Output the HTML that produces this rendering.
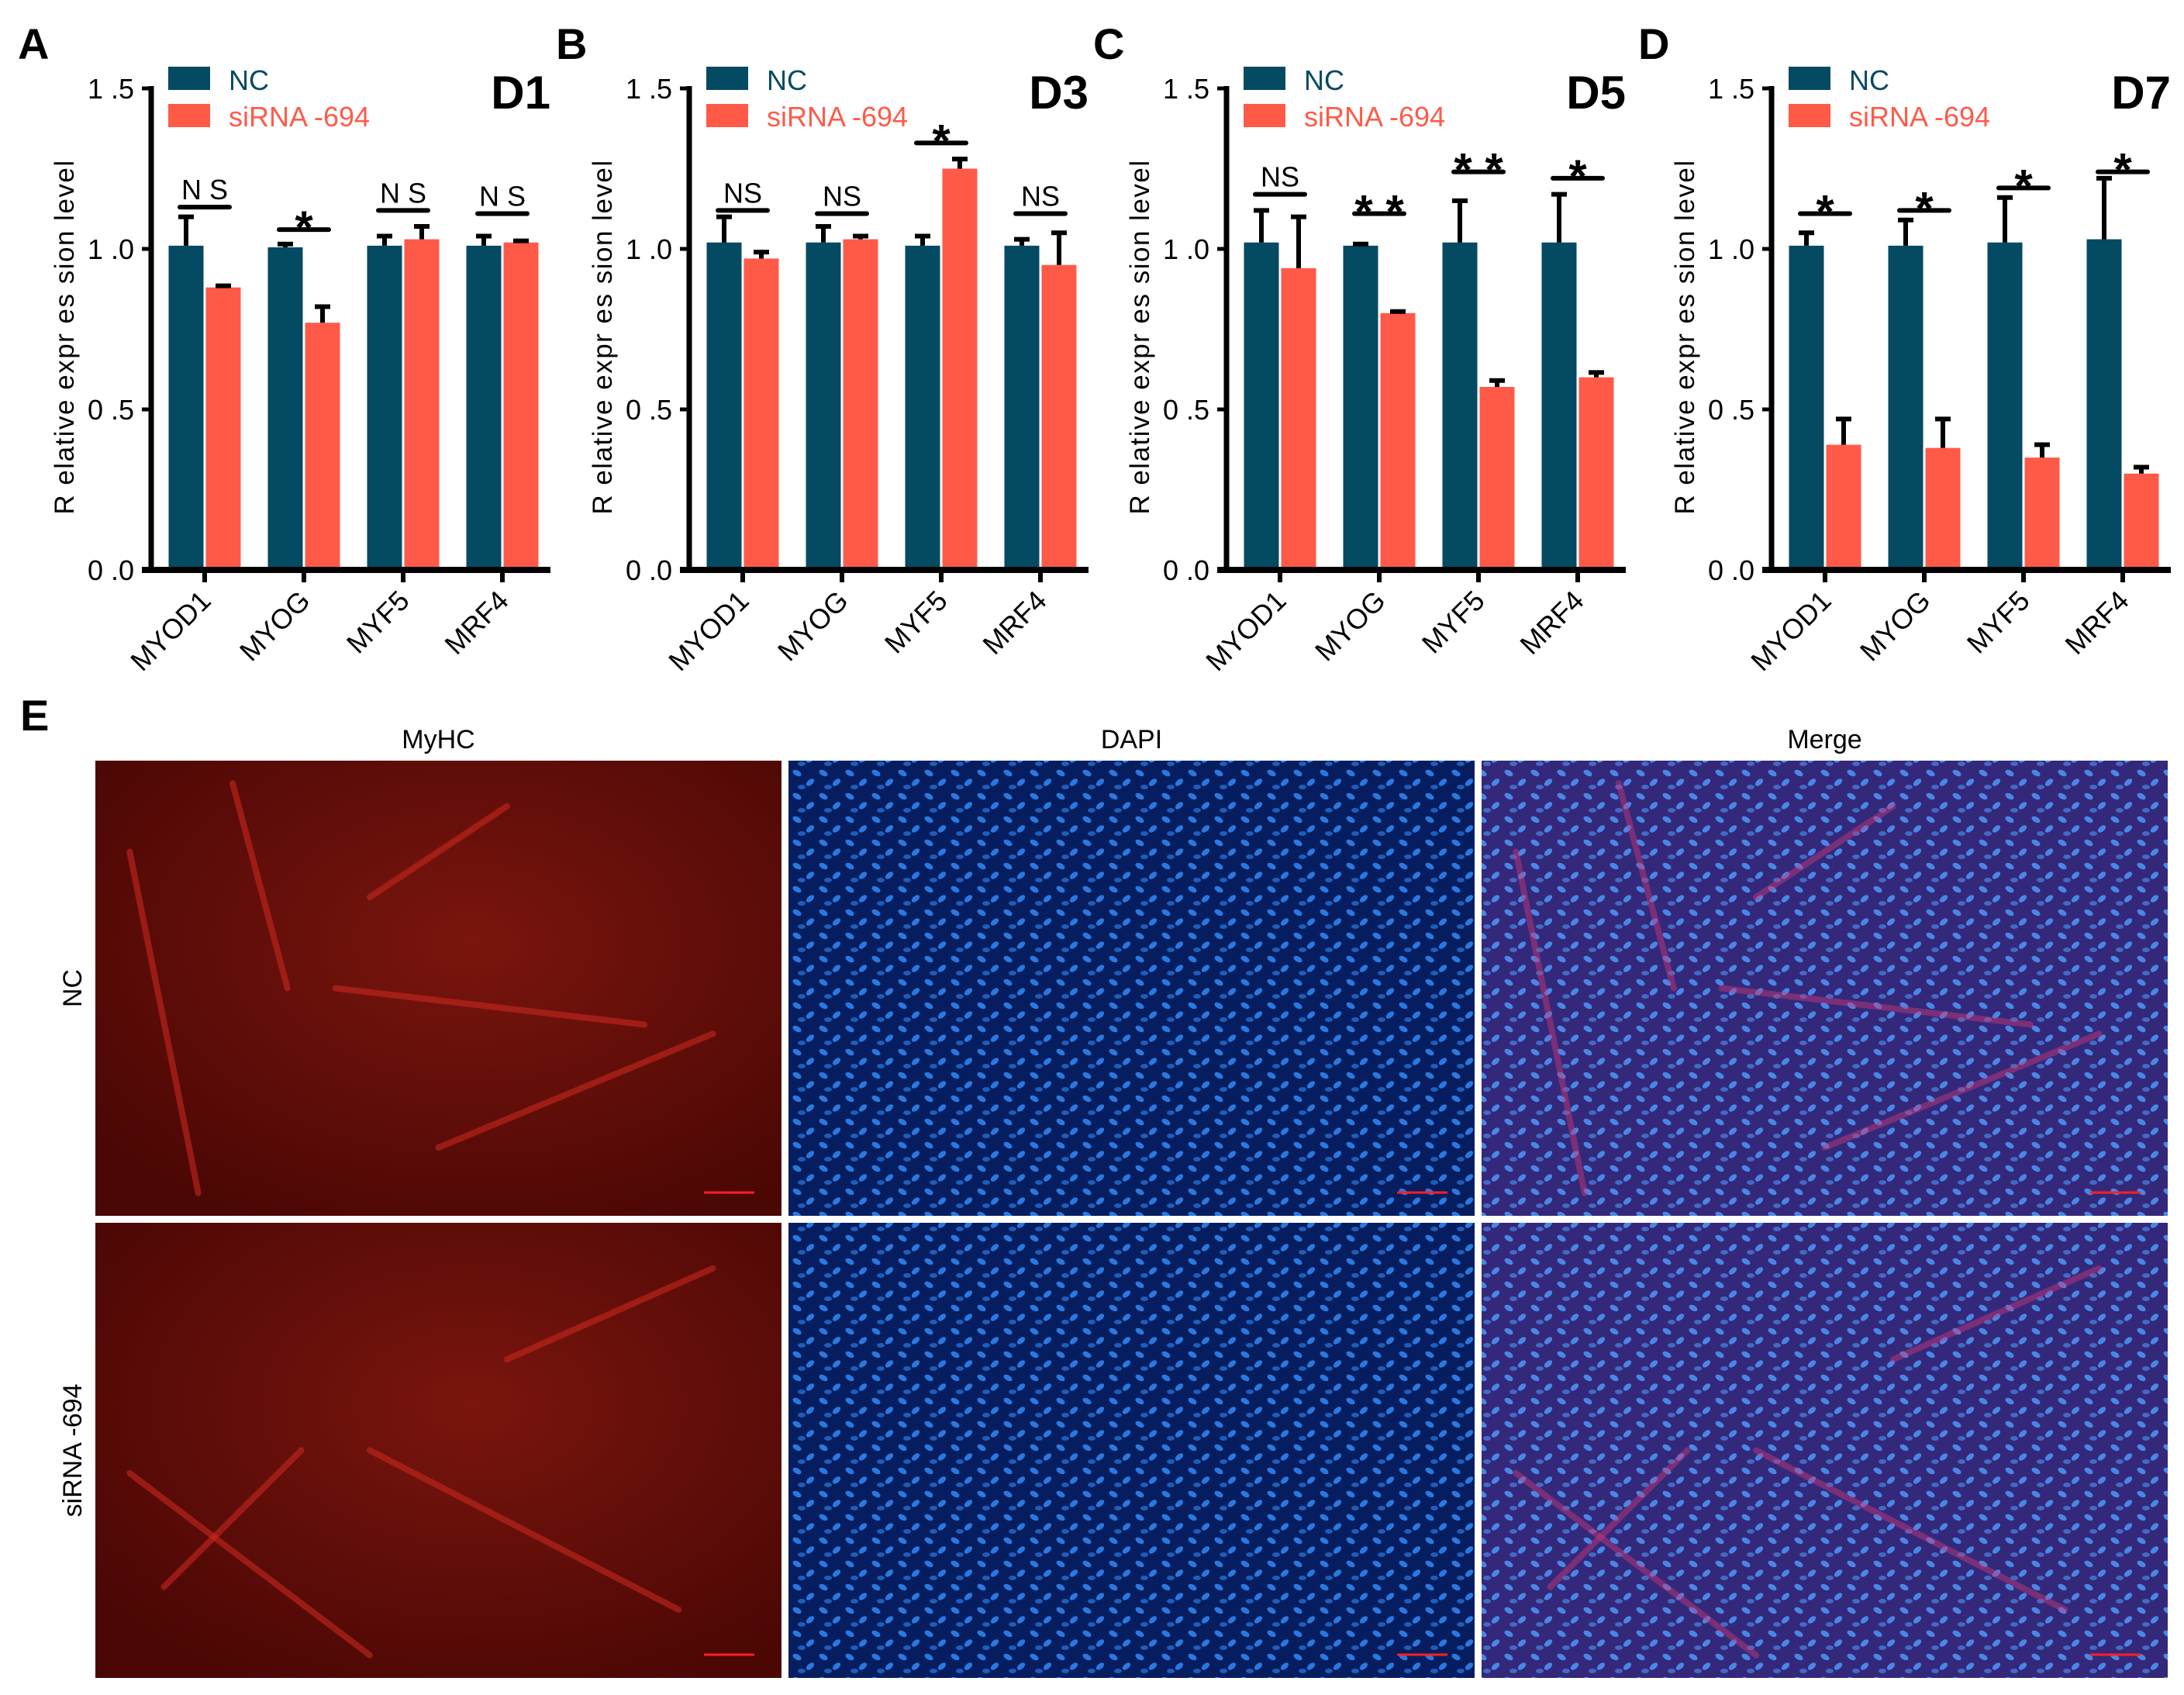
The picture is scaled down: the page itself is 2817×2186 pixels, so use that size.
<!DOCTYPE html>
<html><head><meta charset="utf-8">
<style>
html,body{margin:0;padding:0;background:#fff;}
body{width:2817px;height:2186px;overflow:hidden;font-family:"Liberation Sans",Arial,sans-serif;}
svg{position:absolute;left:0;top:0;}
</style></head>
<body>
<svg id="fig" width="2817" height="2186" xmlns="http://www.w3.org/2000/svg"></svg>
<script>
const categories = ["MYOD1","MYOG","MYF5","MRF4"];
const panelLetters = ["A","B","C","D"];
const dayLabels = ["D1","D3","D5","D7"];
const ncValues = [[1.01,1.005,1.01,1.01],[1.02,1.02,1.01,1.01],[1.02,1.01,1.02,1.02],[1.01,1.01,1.02,1.03]];
const ncErrors = [[0.09,0.01,0.03,0.03],[0.08,0.05,0.03,0.02],[0.10,0.005,0.13,0.15],[0.04,0.08,0.14,0.19]];
const siValues = [[0.88,0.77,1.03,1.02],[0.97,1.03,1.25,0.95],[0.94,0.80,0.57,0.60],[0.39,0.38,0.35,0.30]];
const siErrors = [[0.005,0.05,0.04,0.005],[0.02,0.01,0.03,0.10],[0.16,0.005,0.02,0.015],[0.08,0.09,0.04,0.02]];
const sigLabels = [["N S","*","N S","N S"],["NS","NS","*","NS"],["NS","* *","* *","*"],["*","*","*","*"]];
const sigLevels = [[1.13,1.06,1.12,1.11],[1.12,1.11,1.33,1.11],[1.17,1.11,1.24,1.22],[1.11,1.12,1.19,1.24]];
const yTicks = [0,0.5,1.0,1.5];
const yTickLabels = ["0 .0","0 .5","1 .0","1 .5"];

const NS="http://www.w3.org/2000/svg";
const svg=document.getElementById('fig');
function mk(tag,attrs,parent){const e=document.createElementNS(NS,tag);for(const k in attrs)e.setAttribute(k,attrs[k]);(parent||svg).appendChild(e);return e;}

const panelX=[195,889,1582,2285];
const y0=735, y15=114;
const NCc="#044a62", SIc="#ff5a48";
for(let p=0;p<4;p++){
  const g=mk('g',{});
  
  
  const ax=panelX[p], axEnd=ax+515;
  const yS=v=>y0-(v/1.5)*(y0-y15);
  const pitch=128, bw=45;
  const cx=i=>ax+69+i*pitch;
  const L=mk('text',{x:ax-172,y:76,'font-size':56,'font-weight':'bold',fill:'#000'},g);L.textContent=panelLetters[p];
  
  const D=mk('text',{x:axEnd,y:140,'font-size':60,'font-weight':'bold','text-anchor':'end',fill:'#000'},g);D.textContent=dayLabels[p];
  
  const lb1=mk('rect',{x:ax+22,y:86,width:54,height:30,fill:NCc},g);
  const lt1=mk('text',{x:ax+100,y:116,'font-size':36,fill:NCc},g);lt1.textContent='NC';
  const lb2=mk('rect',{x:ax+22,y:134,width:54,height:30,fill:SIc},g);
  const lt2=mk('text',{x:ax+100,y:163,'font-size':36,fill:SIc},g);lt2.textContent='siRNA -694';
  const yt=mk('text',{x:0,y:0,'font-size':35,'text-anchor':'middle',transform:`translate(${ax-100},${(y0+y15)/2+10}) rotate(-90)`,fill:'#000','letter-spacing':'1.5'},g);
  yt.textContent='R elative expr es sion  level';
  yTicks.forEach((t,i)=>{
    const y=yS(t);
    const tk=mk('line',{x1:ax-12,x2:ax,y1:y,y2:y,stroke:'#000','stroke-width':5},g);
    const tl=mk('text',{x:ax-22,y:y+13,'font-size':36,'text-anchor':'end',fill:'#000'},g);tl.textContent=yTickLabels[i];
    
  });
  categories.forEach((c,i)=>{
    const c0=cx(i);
    [[ncValues,ncErrors,NCc,c0-bw-1.5,'nc'],[siValues,siErrors,SIc,c0+1.5,'sirna']].forEach(([V,E,col,x,nm])=>{
      const v=V[p][i], e=E[p][i];
      const b=mk('rect',{x:x,y:yS(v),width:bw,height:y0-yS(v),fill:col},g);
      
      const mx=x+bw/2;
      const el=mk('line',{x1:mx,x2:mx,y1:yS(v),y2:yS(v+e),stroke:'#000','stroke-width':6},g);
      const ec=mk('line',{x1:mx-10,x2:mx+10,y1:yS(v+e),y2:yS(v+e),stroke:'#000','stroke-width':6},g);
    });
    const sy=yS(sigLevels[p][i]);
    const sl=mk('line',{x1:c0-32,x2:c0+32,y1:sy,y2:sy,stroke:'#000','stroke-width':6,'stroke-linecap':'round'},g);
    const lab=sigLabels[p][i];const star=lab.indexOf('*')>=0;
    const st=mk('text',{x:c0,y:star?sy+18:sy-10,'font-size':star?60:36,'font-weight':star?'bold':'normal','text-anchor':'middle',fill:'#000'},g);st.textContent=lab;
    
    const xt=mk('line',{x1:c0,x2:c0,y1:y0,y2:y0+16,stroke:'#000','stroke-width':6},g);
    const xl=mk('text',{x:0,y:0,'font-size':36,'text-anchor':'end',transform:`translate(${c0+10},${y0+42}) rotate(-45)`,fill:'#000'},g);xl.textContent=c;
    
  });
  const ya=mk('line',{x1:ax,x2:ax,y1:y15-3,y2:y0+3,stroke:'#000','stroke-width':7},g);
  const xa=mk('line',{x1:ax-12,x2:axEnd,y1:y0,y2:y0,stroke:'#000','stroke-width':8},g);
}

const defs=mk('defs',{});
function pattern(id,fill,dot){
  const pt=mk('pattern',{id:id,width:34,height:30,patternUnits:'userSpaceOnUse'},defs);
  mk('rect',{width:34,height:30,fill:fill},pt);
  mk('ellipse',{cx:8,cy:7,rx:6,ry:3.5,fill:dot,transform:'rotate(30 8 7)'},pt);
  mk('ellipse',{cx:25,cy:19,rx:6,ry:3.5,fill:dot,transform:'rotate(-40 25 19)'},pt);
  mk('ellipse',{cx:14,cy:25,rx:5,ry:3,fill:dot,opacity:0.7},pt);
}
pattern('dapi','#061e60','#2a78e0');
pattern('merge','#33287a','#4a86e6');
const rg=mk('radialGradient',{id:'redg',cx:'0.55',cy:'0.4',r:'0.7'},defs);
mk('stop',{offset:'0','stop-color':'#7a150e'},rg);
mk('stop',{offset:'1','stop-color':'#4a0704'},rg);
const E=mk('text',{x:26,y:942,'font-size':56,'font-weight':'bold'});E.textContent='E';
const colX=[123,1017,1911], rowY=[981,1577], W=885, H=587;
const colNames=["MyHC","DAPI","Merge"];
colNames.forEach((n,i)=>{const t=mk('text',{x:colX[i]+W/2,y:965,'font-size':34,'text-anchor':'middle'});t.textContent=n;});
const rowNames=["NC","siRNA -694"];
rowNames.forEach((n,r)=>{const t=mk('text',{x:0,y:0,'font-size':34,'text-anchor':'middle',transform:`translate(${105},${rowY[r]+H/2}) rotate(-90)`});t.textContent=n;});
for(let r=0;r<2;r++)for(let c=0;c<3;c++){
  const x=colX[c],y=rowY[r];
  const fill=c==0?'url(#redg)':(c==1?'url(#dapi)':'url(#merge)');
  const im=mk('rect',{x:x,y:y,width:W,height:H,fill:fill});
  
  if(c!=1){
    const col=c==0?'#d02a20':'#d03878';const op=c==0?0.55:0.45;
    const lines=r==0?[[0.05,0.2,0.15,0.95],[0.35,0.5,0.8,0.58],[0.2,0.05,0.28,0.5],[0.4,0.3,0.6,0.1],[0.5,0.85,0.9,0.6]]:[[0.05,0.55,0.4,0.95],[0.4,0.5,0.85,0.85],[0.6,0.3,0.9,0.1],[0.1,0.8,0.3,0.5]];
    lines.forEach(l=>{const ln=mk('line',{x1:x+l[0]*W,y1:y+l[1]*H,x2:x+l[2]*W,y2:y+l[3]*H,stroke:col,'stroke-width':8,opacity:op,'stroke-linecap':'round'});});
  }
  const sb=mk('line',{x1:x+W-100,x2:x+W-35,y1:y+H-30,y2:y+H-30,stroke:'#ff2020','stroke-width':3});
}
</script>
</body></html>
